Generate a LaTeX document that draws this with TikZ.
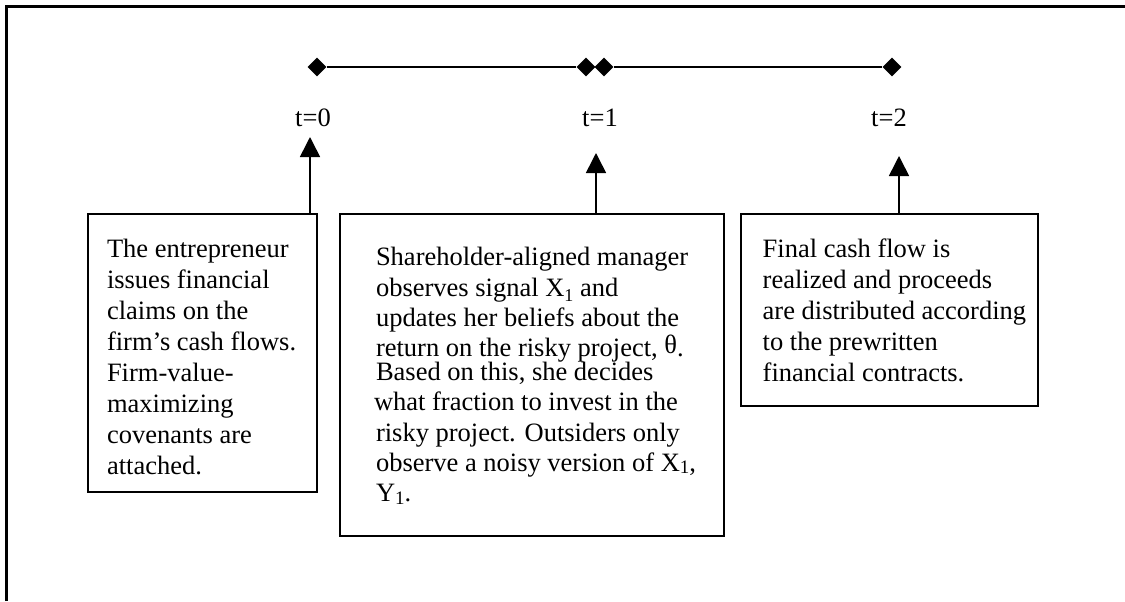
\documentclass[tikz,border=0pt]{standalone}
\usepackage{fontspec}
\setmainfont{Liberation Serif}
\usetikzlibrary{shapes.geometric,arrows.meta}

% line-by-line text block inside a fixed-size box
\newlength\padx
\newlength\firstbase
\newcommand\bline[1]{\moveright\padx\hbox{#1}}
\newcommand\fline[1]{\moveright\padx\hbox{\rule{0pt}{\firstbase}#1}}
% #1 width, #2 height, #3 left padding, #4 first baseline, #5 baselineskip, #6 lines
\newcommand\boxtext[6]{\parbox[t][#2][t]{#1}{\setlength\padx{#3}\setlength\firstbase{#4}%
  \fontsize{13.25pt}{#5}\selectfont #6\hrule height 0pt width #1}}
\newcommand\lowsub[1]{\raisebox{-0.22em}{\fontsize{9pt}{9pt}\selectfont #1}}
\newcommand\smallone[1]{\raisebox{-0.08em}{\fontsize{9.5pt}{9.5pt}\selectfont #1}}

\begin{document}
\begin{tikzpicture}[x=0.5pt,y=-0.5pt,
  box/.style={draw,line width=1pt,inner sep=0pt,anchor=north west},
  tick/.style={diamond,fill=black,inner sep=0pt,minimum width=9.5pt,minimum height=9.5pt},
  axis/.style={line width=0.85pt},
  up/.style={line width=0.8pt,-{Triangle[width=10pt,length=10pt]}},
  lbl/.style={font=\fontsize{13.25pt}{15.5pt}\selectfont,anchor=base,inner sep=0pt}]
\useasboundingbox (0,0) rectangle (1125,601);

% page frame
\draw[line width=1.4pt] (6.7,601) -- (6.7,6.7) -- (1125,6.7);

% time line
\node[tick] (d0) at (317,67) {};
\node[tick] (d1a) at (586,67) {};
\node[tick] (d1b) at (604,67) {};
\node[tick] (d2) at (892,67) {};
\draw[axis] (d0) -- (d1a);
\draw[axis] (d1b) -- (d2);

% dates
\node[lbl] (t0) at (313,126) {t=0};
\node[lbl] (t1) at (600,126) {t=1};
\node[lbl] (t2) at (889,126) {t=2};

% event boxes
\node[box] (box1) at (86.7,212.7) {\boxtext{114.5pt}{139.15pt}{9.65pt}{22pt}{15.5pt}{%
  \fline{The entrepreneur}
  \bline{issues financial}
  \bline{claims on the}
  \bline{firm’s cash flows.}
  \bline{Firm-value-}
  \bline{maximizing}
  \bline{covenants are}
  \bline{attached.}}};

\node[box] (box2) at (339,212.7) {\boxtext{192pt}{161.15pt}{18pt}{26pt}{15.2pt}{%
  \fline{Shareholder-aligned manager}
  \bline{observes signal X\lowsub{1} and}
  \bline{updates her beliefs about the}
  \bline{return on the risky project, \raisebox{0.12em}{θ}.}
  \vskip-3.5pt
  \bline{Based on this, she decides}
  \bline{\hspace{-1pt}what fraction to invest in the}
  \bline{risky project. Outsiders only}
  \bline{observe a noisy version of X\smallone{1},}
  \bline{Y\smallone{1}.}}};

\node[box] (box3) at (740,212.7) {\boxtext{148.5pt}{96.15pt}{10.85pt}{22pt}{15.5pt}{%
  \fline{Final cash flow is}
  \bline{realized and proceeds}
  \bline{are distributed according}
  \bline{to the prewritten}
  \bline{financial contracts.}}};

% arrows from each event up to its date
\coordinate (tip0) at (310,137);
\coordinate (tip1) at (596,153);
\coordinate (tip2) at (899,156);
\draw[up] (tip0 |- box1.north) -- (tip0);
\draw[up] (tip1 |- box2.north) -- (tip1);
\draw[up] (tip2 |- box3.north) -- (tip2);
\end{tikzpicture}
\end{document}
